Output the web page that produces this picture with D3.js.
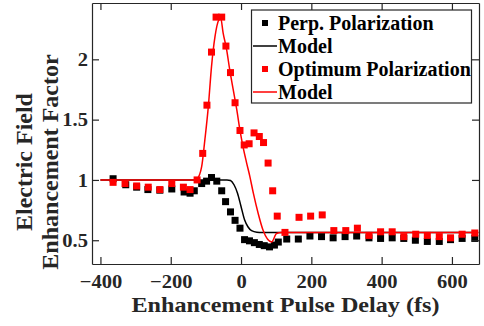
<!DOCTYPE html>
<html>
<head>
<meta charset="utf-8">
<script src="https://cdn.jsdelivr.net/npm/d3@7"></script>
<style>
  body { margin: 0; background: #fff; }
  svg { display: block; }
  text { font-family: "Liberation Serif", "Times New Roman", Times, serif !important; font-weight: bold; }
</style>
</head>
<body>
<svg id="chart" width="484" height="326"></svg>
<script>
// Messwerte - senkrechte Polarisation (schwarz)
var perpDelay = [-364, -328, -297, -265, -231, -197, -162, -145, -133, -112, -98, -84, -69, -55, -44, -30, -17, -3,
  10, 24, 38, 52, 66, 81, 95, 106, 130, 163, 196, 229, 262, 296, 329, 364, 397, 430, 463, 496, 530, 564, 596, 629, 665];
var perpValue = [1.01, 0.96, 0.94, 0.92, 0.915, 0.925, 0.90, 0.89, 0.91, 0.97, 0.99, 1.02, 0.99, 0.91, 0.82, 0.735, 0.665, 0.60,
  0.505, 0.495, 0.48, 0.465, 0.455, 0.445, 0.46, 0.485, 0.51, 0.51, 0.535, 0.53, 0.52, 0.53, 0.535, 0.52, 0.515, 0.52, 0.515, 0.50, 0.49, 0.49, 0.505, 0.515, 0.515];

// Modell - senkrechte Polarisation
var perpModelDelay = [-400, -40, -30, -20, -10, 0, 10, 20, 30, 45, 60, 675];
var perpModelValue = [1.0, 1.0, 0.995, 0.96, 0.89, 0.78, 0.67, 0.61, 0.58, 0.567, 0.565, 0.565];

// Messwerte - optimale Polarisation (rot)
var optDelay = [-364, -330, -297, -264, -231, -197, -164, -145, -125, -109, -97, -84, -71, -55, -43, -30, -17, -3,
  9, 23, 37, 52, 64, 77, 90, 103, 125, 165, 198, 231, 264, 298, 331, 364, 397, 430, 463, 497, 530, 564, 596, 629, 665];
var optValue = [0.98, 0.97, 0.95, 0.94, 0.92, 0.97, 0.94, 0.92, 1.0, 1.22, 1.62, 2.06, 2.35, 2.35, 2.11, 1.89, 1.64, 1.41,
  1.29, 1.30, 1.39, 1.36, 1.31, 1.14, 0.91, 0.70, 0.565, 0.69, 0.70, 0.71, 0.58, 0.58, 0.60, 0.54, 0.57, 0.57, 0.53, 0.55, 0.54, 0.53, 0.52, 0.55, 0.56];

// Modell - optimale Polarisation
var optModelDelay = [-400, -135, -125, -112, -103, -93, -84, -74, -63, -58, -51, -41, -32, -22, -12, -3,
  6, 16, 25, 35, 49, 63, 87, 101, 115, 675];
var optModelValue = [1.0, 1.0, 1.01, 1.11, 1.33, 1.61, 1.94, 2.19, 2.33, 2.345, 2.22, 2.08, 1.91, 1.745, 1.58, 1.41,
  1.27, 1.14, 1.03, 0.89, 0.72, 0.58, 0.486, 0.556, 0.565, 0.565];

// Achsen
var xTicks = [-400, -200, 0, 200, 400, 600];
var yTicks = [0.5, 1, 1.5, 2];
var legendLabels = ['Perp. Polarization', 'Model', 'Optimum Polarization', 'Model'];

var axisColor = '#262626';
var box = { left: 92, right: 479, top: 3, bottom: 264 };

var svg = d3.select('#chart');

var x = d3.scaleLinear().domain([-424, 677]).range([box.left, box.right]);
var y = d3.scaleLinear().domain([0.303, 2.467]).range([box.bottom, box.top]);

function zip(a, b) {
  return a.map(function(d, i) { return [d, b[i]]; });
}

// Text leicht horizontal dehnen
function stretch(sel, f) {
  sel.each(function() {
    var w = this.getComputedTextLength();
    d3.select(this)
      .attr('textLength', w * f)
      .attr('lengthAdjust', 'spacingAndGlyphs');
  });
}

var line = d3.line()
  .x(function(d) { return x(d[0]); })
  .y(function(d) { return y(d[1]); })
  .curve(d3.curveMonotoneX);

var plot = svg.append('g');
var sq = 7;

// schwarze Punkte
plot.selectAll('rect.perp')
  .data(zip(perpDelay, perpValue))
  .enter().append('rect')
  .attr('class', 'perp')
  .attr('x', function(d) { return x(d[0]) - sq / 2; })
  .attr('y', function(d) { return y(d[1]) - sq / 2; })
  .attr('width', sq).attr('height', sq)
  .attr('fill', '#000');

plot.append('path')
  .datum(zip(perpModelDelay, perpModelValue))
  .attr('d', line)
  .attr('fill', 'none')
  .attr('stroke', '#000')
  .attr('stroke-width', 1.5);

// rote Punkte
plot.selectAll('rect.opt')
  .data(zip(optDelay, optValue))
  .enter().append('rect')
  .attr('class', 'opt')
  .attr('x', function(d) { return x(d[0]) - sq / 2; })
  .attr('y', function(d) { return y(d[1]) - sq / 2; })
  .attr('width', sq).attr('height', sq)
  .attr('fill', '#ff0000');

plot.append('path')
  .datum(zip(optModelDelay, optModelValue))
  .attr('d', line)
  .attr('fill', 'none')
  .attr('stroke', '#ff0000')
  .attr('stroke-width', 1.5);

// Rahmen mit Ticks auf allen Seiten
var tickLen = 7;
var xAxisG = svg.append('g')
  .attr('transform', 'translate(0,' + box.bottom + ')')
  .call(d3.axisBottom(x).tickValues(xTicks).tickSizeInner(-tickLen).tickSizeOuter(0).tickPadding(11).tickFormat(d3.format('d')));
svg.append('g')
  .attr('transform', 'translate(0,' + box.top + ')')
  .call(d3.axisTop(x).tickValues(xTicks).tickSizeInner(-tickLen).tickSizeOuter(0).tickFormat(''));
var yAxisG = svg.append('g')
  .attr('transform', 'translate(' + box.left + ',0)')
  .call(d3.axisLeft(y).tickValues(yTicks).tickSizeInner(-tickLen).tickSizeOuter(0).tickPadding(4).tickFormat(d3.format('')));
svg.append('g')
  .attr('transform', 'translate(' + box.right + ',0)')
  .call(d3.axisRight(y).tickValues(yTicks).tickSizeInner(-tickLen).tickSizeOuter(0).tickFormat(''));

svg.selectAll('.domain').attr('stroke', axisColor).attr('stroke-width', 1.2);
svg.selectAll('.tick line').attr('stroke', axisColor).attr('stroke-width', 1.2);
svg.selectAll('.tick text')
  .attr('fill', axisColor)
  .style('font-size', '19px');
stretch(xAxisG.selectAll('.tick text'), 1.08);
stretch(yAxisG.selectAll('.tick text'), 1.08);

// Achsentitel
var xTitle = svg.append('text')
  .attr('x', (box.left + box.right) / 2)
  .attr('y', 312)
  .attr('text-anchor', 'middle')
  .attr('fill', axisColor)
  .style('font-size', '22px')
  .text('Enhancement Pulse Delay (fs)');
stretch(xTitle, 308 / xTitle.node().getComputedTextLength());

svg.append('text')
  .attr('transform', 'translate(32,162) rotate(-90)')
  .attr('text-anchor', 'middle')
  .attr('fill', axisColor)
  .style('font-size', '24px')
  .text('Electric Field');

svg.append('text')
  .attr('transform', 'translate(58,162) rotate(-90)')
  .attr('text-anchor', 'middle')
  .attr('fill', axisColor)
  .style('font-size', '24px')
  .text('Enhancement Factor');

// Legende
var legend = svg.append('g');
legend.append('rect')
  .attr('x', 251.5).attr('y', 10)
  .attr('width', 220).attr('height', 93)
  .attr('fill', '#fff')
  .attr('stroke', axisColor)
  .attr('stroke-width', 1.2);

var legendColors = ['#000', '#000', '#ff0000', '#ff0000'];
var legendKinds = ['marker', 'line', 'marker', 'line'];
var rowY = [23, 46, 69, 92];

legendLabels.forEach(function(label, i) {
  if (legendKinds[i] === 'marker') {
    legend.append('rect')
      .attr('x', 265 - 3).attr('y', rowY[i] - 3)
      .attr('width', 6).attr('height', 6)
      .attr('fill', legendColors[i]);
  } else {
    legend.append('line')
      .attr('x1', 253).attr('x2', 277)
      .attr('y1', rowY[i]).attr('y2', rowY[i])
      .attr('stroke', legendColors[i])
      .attr('stroke-width', 1.5);
  }
  legend.append('text')
    .attr('x', 278)
    .attr('y', rowY[i] + 7)
    .attr('fill', '#000')
    .style('font-size', '20px')
    .text(label);
});
</script>
</body>
</html>
